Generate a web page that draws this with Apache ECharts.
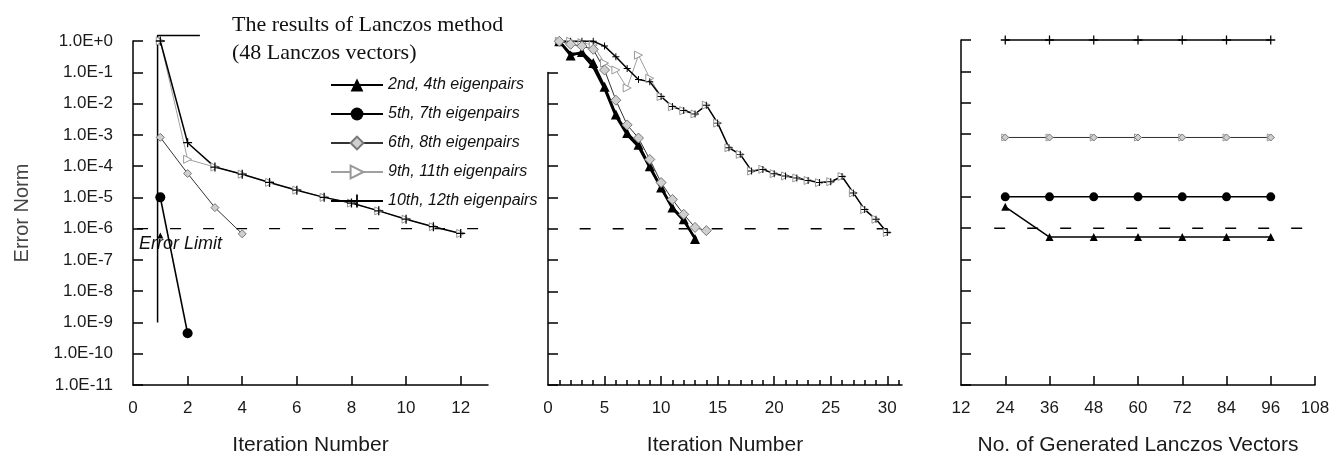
<!DOCTYPE html>
<html><head><meta charset="utf-8">
<script src="https://cdn.jsdelivr.net/npm/echarts@6/dist/echarts.min.js"></script>
<style>html,body{margin:0;padding:0;background:#fff}#c{width:1340px;height:461px}</style>
</head><body><div id="c"></div>
<script>
// ---- names ----
const legendNames = ['2nd, 4th eigenpairs', '5th, 7th eigenpairs', '6th, 8th eigenpairs', '9th, 11th eigenpairs', '10th, 12th eigenpairs'];

// ---- y ticks (decades) ----
const yDecades = [1e0, 1e-1, 1e-2, 1e-3, 1e-4, 1e-5, 1e-6, 1e-7, 1e-8, 1e-9, 1e-10, 1e-11];
const yDecadesMid = [1e-1, 1e-2, 1e-3, 1e-4, 1e-5, 1e-6, 1e-7, 1e-8, 1e-9, 1e-10, 1e-11];

// ---- panel 1 : Iteration Number (48 Lanczos vectors) ----
const p1Tri  = [[1, 6e-7]];
const p1Cir  = [[1, 1e-5], [2, 4.5e-10]];
const p1Dia  = [[1, 8.3e-4], [2, 5.8e-5], [3, 4.7e-6], [4, 6.8e-7]];
const p1Open = [[1, 1], [2, 1.65e-4], [3, 9.3e-5], [4, 5.5e-5], [5, 3e-5], [6, 1.7e-5], [7, 1e-5], [8, 6.6e-6], [9, 3.7e-6], [10, 2e-6], [11, 1.15e-6], [12, 7e-7]];
const p1Plus = [[1, 1], [2, 5.6e-4], [3, 9.3e-5], [4, 5.5e-5], [5, 3e-5], [6, 1.7e-5], [7, 1e-5], [8, 6.6e-6], [9, 3.7e-6], [10, 2e-6], [11, 1.15e-6], [12, 7e-7]];
const p1Guide = [[0.9, 1e-9], [0.9, 1.5], [2.45, 1.5]];
const p1XLabels = [0, 2, 4, 6, 8, 10, 12];
const p1XTicks = [2, 4, 6, 8, 10, 12];

// ---- panel 2 : Iteration Number ----
const p2Tri  = [[1, 1], [2, 0.35], [3, 0.45], [4, 0.2], [5, 0.035], [6, 0.0045], [7, 0.00115], [8, 4.9e-4], [9, 1e-4], [10, 2.1e-5], [11, 4.8e-6], [12, 2e-6], [13, 4.7e-7]];
const p2Cir  = [[1, 1], [2, 0.4], [3, 0.4], [4, 0.15], [5, 0.03], [6, 0.004], [7, 0.001], [8, 4.2e-4], [9, 9e-5], [10, 2e-5], [11, 4.5e-6], [12, 1.8e-6], [13, 5e-7]];
const p2Dia  = [[1, 1], [2, 0.8], [3, 0.7], [4, 0.55], [5, 0.12], [6, 0.013], [7, 0.0021], [8, 8e-4], [9, 1.65e-4], [10, 3e-5], [11, 8.7e-6], [12, 2.9e-6], [13, 1.1e-6], [14, 8.7e-7]];
const p2Open = [[1, 1], [2, 1], [3, 0.9], [4, 0.75], [5, 0.2], [6, 0.12], [7, 0.032], [8, 0.36], [9, 0.065], [10, 0.017], [11, 0.008], [12, 0.006], [13, 0.0047], [14, 0.009], [15, 0.0024], [16, 3.9e-4], [17, 2.4e-4], [18, 7e-5], [19, 8e-5], [20, 5.8e-5], [21, 4.9e-5], [22, 4.2e-5], [23, 3.5e-5], [24, 3e-5], [25, 3.2e-5], [26, 4.7e-5], [27, 1.4e-5], [28, 4.1e-6], [29, 2e-6], [30, 7.6e-7]];
const p2Plus = [[1, 1], [2, 1], [3, 1], [4, 1], [5, 0.7], [6, 0.32], [7, 0.135], [8, 0.06], [9, 0.051], [10, 0.017], [11, 0.0081], [12, 0.0061], [13, 0.0047], [14, 0.009], [15, 0.0024], [16, 3.9e-4], [17, 2.4e-4], [18, 7.1e-5], [19, 7.9e-5], [20, 5.8e-5], [21, 4.9e-5], [22, 4.2e-5], [23, 3.5e-5], [24, 3e-5], [25, 3.2e-5], [26, 4.7e-5], [27, 1.4e-5], [28, 4.1e-6], [29, 2e-6], [30, 7.6e-7]];
const p2XLabels = [0, 5, 10, 15, 20, 25, 30];
const p2XMajorTicks = [5, 10, 15, 20, 25, 30];
const p2XMinorTicks = [1, 2, 3, 4, 6, 7, 8, 9, 11, 12, 13, 14, 16, 17, 18, 19, 21, 22, 23, 24, 26, 27, 28, 29, 31];

// ---- panel 3 : No. of Generated Lanczos Vectors ----
const p3X    = [24, 36, 48, 60, 72, 84, 96];
const p3Tri  = [4.8e-6, 5.2e-7, 5.2e-7, 5.2e-7, 5.2e-7, 5.2e-7, 5.2e-7];
const p3Cir  = [1e-5, 1e-5, 1e-5, 1e-5, 1e-5, 1e-5, 1e-5];
const p3Dia  = [7.8e-4, 7.8e-4, 7.8e-4, 7.8e-4, 7.8e-4, 7.8e-4, 7.8e-4];
const p3Open = [7.8e-4, 7.8e-4, 7.8e-4, 7.8e-4, 7.8e-4, 7.8e-4, 7.8e-4];
const p3Plus = [1, 1, 1, 1, 1, 1, 1];
const p3XLabels = [12, 24, 36, 48, 60, 72, 84, 96, 108];
const p3XTicks = [24, 36, 48, 60, 72, 84, 96, 108];

// ---- error limit ----
const errorLimit = 1e-6;
const p1LimitSpan = [0.15, 12.8];
const p2LimitSpan = [2.8, 30.4];
const p3LimitSpan = [21, 106.5];

const FONT = "'Liberation Sans', Arial, sans-serif";
const plusPath = 'path://M4.3,0H5.7V10H4.3Z M0,4.3H10V5.7H0Z';

const styles = {
  tri:  { symbol: 'triangle', itemStyle: { color: '#000' }, lineStyle: { color: '#000', width: 1.5 } },
  cir:  { symbol: 'circle', itemStyle: { color: '#000' }, lineStyle: { color: '#000', width: 1.6 } },
  dia:  { symbol: 'diamond', itemStyle: { color: '#cfcfcf', borderColor: '#777', borderWidth: 1 }, lineStyle: { color: '#333', width: 1 } },
  open: { symbol: 'triangle', symbolRotate: -90, itemStyle: { color: '#fff', borderColor: '#999', borderWidth: 1 }, lineStyle: { color: '#a0a0a0', width: 1 } },
  plus: { symbol: plusPath, itemStyle: { color: '#000' }, lineStyle: { color: '#000', width: 1.5 } }
};

function line(name, data, xi, yi, st, size, lw) {
  const s = Object.assign({
    type: 'line', name: name, data: data, xAxisIndex: xi, yAxisIndex: yi,
    symbolSize: size, showAllSymbol: true, animation: false, clip: false
  }, JSON.parse(JSON.stringify(st)));
  if (lw) s.lineStyle.width = lw;
  return s;
}
function zip(xs, ys) { return xs.map((x, i) => [x, ys[i]]); }
function limit(span, xi, yi) {
  return { type: 'line', name: 'limit', data: [[span[0], errorLimit], [span[1], errorLimit]],
    xAxisIndex: xi, yAxisIndex: yi, symbol: 'none', animation: false, silent: true,
    lineStyle: { color: '#000', width: 1.4, type: [11, 22] } };
}

const series = [
  limit(p1LimitSpan, 0, 0),
  limit(p2LimitSpan, 1, 1),
  limit(p3LimitSpan, 3, 2),
  { type: 'line', name: 'guide', data: p1Guide, xAxisIndex: 0, yAxisIndex: 0, symbol: 'none', clip: false,
    animation: false, silent: true, lineStyle: { color: '#000', width: 1.5 } },
  // panel 1
  line(legendNames[3], p1Open, 0, 0, styles.open, 8),
  line(legendNames[2], p1Dia, 0, 0, styles.dia, 8),
  line(legendNames[4], p1Plus, 0, 0, styles.plus, 9),
  line(legendNames[1], p1Cir, 0, 0, styles.cir, 10),
  line(legendNames[0], p1Tri, 0, 0, styles.tri, 6),
  // panel 2
  line(legendNames[3], p2Open, 1, 1, styles.open, 8),
  line(legendNames[4], p2Plus, 1, 1, styles.plus, 7),
  line(legendNames[1], p2Cir, 1, 1, styles.cir, 4, 2.4),
  line(legendNames[0], p2Tri, 1, 1, styles.tri, 10, 2.4),
  line(legendNames[2], p2Dia, 1, 1, styles.dia, 10),
  // panel 3
  line(legendNames[3], zip(p3X, p3Open), 3, 2, styles.open, 7),
  line(legendNames[2], zip(p3X, p3Dia), 3, 2, styles.dia, 7),
  line(legendNames[4], zip(p3X, p3Plus), 3, 2, styles.plus, 9),
  line(legendNames[1], zip(p3X, p3Cir), 3, 2, styles.cir, 9),
  line(legendNames[0], zip(p3X, p3Tri), 3, 2, styles.tri, 8)
];

const axisLineStyle = { lineStyle: { color: '#000', width: 1.5 } };
const tickStyle = { color: '#000', width: 1.5 };
const labelStyle = { fontFamily: FONT, fontSize: 17, color: '#1a1a1a' };
const nameStyle = { fontFamily: FONT, fontSize: 21, color: '#1a1a1a' };

function xAxis(gi, min, max, interval, labels, ticks, name) {
  return {
    type: 'value', gridIndex: gi, position: 'bottom', min: min, max: max, interval: interval,
    axisLine: axisLineStyle,
    axisTick: { inside: true, length: 9, lineStyle: tickStyle, customValues: ticks },
    axisLabel: Object.assign({ margin: 15, customValues: labels }, labelStyle),
    splitLine: { show: false },
    name: name, nameLocation: 'middle', nameGap: 50, nameTextStyle: nameStyle
  };
}
function yAxis(gi, max, decades, showLabels) {
  return {
    type: 'log', logBase: 10, gridIndex: gi, min: 1e-11, max: max, position: 'left',
    axisLine: axisLineStyle,
    axisTick: { inside: true, length: 10, lineStyle: tickStyle, customValues: decades },
    axisLabel: Object.assign({ show: showLabels, margin: 20, customValues: decades,
      formatter: v => { const e = Math.round(Math.log10(v)); return '1.0E' + (e >= 0 ? '+' : '') + e; } }, labelStyle),
    splitLine: { show: false }, minorTick: { show: false }
  };
}

const option = {
  backgroundColor: '#fff',
  animation: false,
  title: {
    text: 'The results of Lanczos method\n(48 Lanczos vectors)',
    left: 227, top: 6,
    textStyle: { fontFamily: "'Liberation Serif', 'Times New Roman', serif", fontSize: 22, fontWeight: 'normal', color: '#111', lineHeight: 28 }
  },
  legend: {
    data: legendNames, orient: 'vertical', left: 325, top: 72,
    itemWidth: 52, itemHeight: 16, itemGap: 13,
    textStyle: { fontFamily: FONT, fontStyle: 'italic', fontSize: 16, color: '#111' },
    selectedMode: false
  },
  grid: [
    { left: 133, top: 41, width: 355, height: 346 },
    { left: 548, top: 72.5, width: 354, height: 314 },
    { left: 961, top: 40, width: 354, height: 345 }
  ],
  xAxis: [
    xAxis(0, 0, 13, 2, p1XLabels, p1XTicks, 'Iteration Number'),
    xAxis(1, 0, 31.3, 5, p2XLabels, p2XMajorTicks, 'Iteration Number'),
    {
      type: 'value', gridIndex: 1, position: 'bottom', min: 0, max: 31.3, interval: 1,
      axisLine: { show: false },
      axisTick: { inside: true, length: 5, lineStyle: tickStyle, customValues: p2XMinorTicks },
      axisLabel: { show: false }, splitLine: { show: false }
    },
    xAxis(2, 12, 108, 12, p3XLabels, p3XTicks, 'No. of Generated Lanczos Vectors')
  ],
  yAxis: [
    Object.assign(yAxis(0, 1, yDecades, true), {
      name: 'Error Norm', nameLocation: 'middle', nameGap: 101, nameRotate: 90,
      nameTextStyle: { fontFamily: FONT, fontSize: 20, color: '#444' }
    }),
    yAxis(1, 0.1, yDecadesMid, false),
    yAxis(2, 1, yDecades, false)
  ],
  graphic: [
    { type: 'text', left: 139, top: 235, silent: true,
      style: { text: 'Error Limit', font: "italic 18px 'Liberation Sans', Arial, sans-serif", fill: '#111' } }
  ],
  series: series
};

const chart = echarts.init(document.getElementById('c'), null, { renderer: 'canvas' });
chart.setOption(option);
</script>
</body></html>
